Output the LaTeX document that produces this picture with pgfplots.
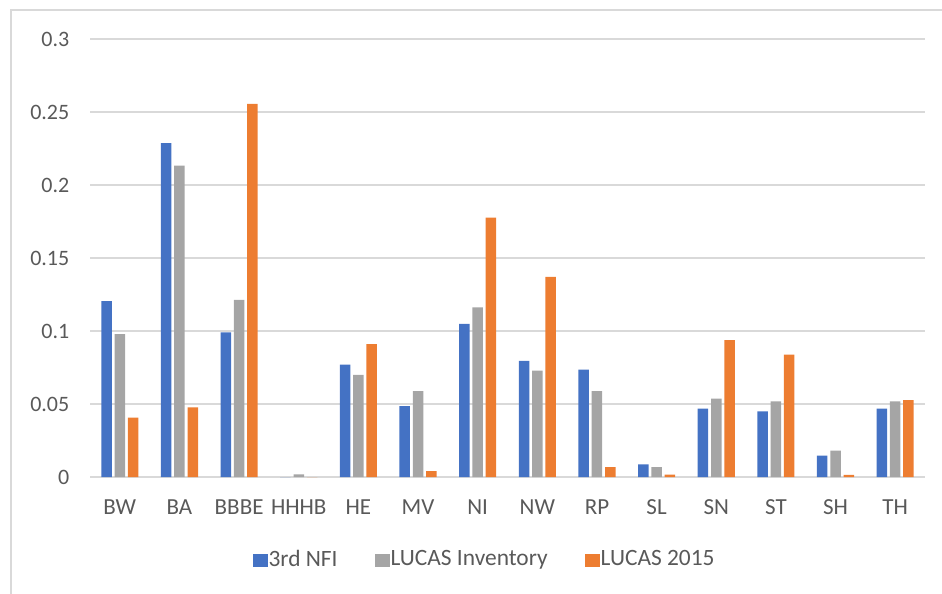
\documentclass[border=0pt]{standalone}
\usepackage{fontspec}
\setmainfont{Carlito}
\usepackage{pgfplots}
\pgfplotsset{compat=1.18}
\definecolor{cblue}{HTML}{4472C4}
\definecolor{cgray}{HTML}{A5A5A5}
\definecolor{corange}{HTML}{ED7D31}
\definecolor{gridc}{HTML}{D9D9D9}
\definecolor{txt}{HTML}{595959}
\begin{document}
\fontsize{11}{13}\selectfont
\begin{tikzpicture}
\useasboundingbox (0pt,0pt) rectangle (471pt,297pt);
\draw[gridc, line width=0.8pt] (5.5pt,0pt) -- (5.5pt,292pt) -- (471pt,292pt);
\begin{axis}[
  at={(45pt,58.5pt)}, anchor=south west,
  scale only axis, width=417.5pt, height=219pt,
  ybar=1.4pt, bar width=5.25pt,
  xmin=-0.5, xmax=13.5, ymin=0, ymax=0.3,
  xtick={0,...,13},
  xticklabels={BW,BA,BBBE,HHHB,HE,MV,NI,NW,RP,SL,SN,ST,SH,TH},
  ytick={0,0.05,0.1,0.15,0.2,0.25,0.3},
  yticklabels={0,0.05,0.1,0.15,0.2,0.25,0.3},
  major tick length=0pt,
  axis line style={draw=none},
  xmajorgrids=false, ymajorgrids=true,
  major grid style={gridc, line width=0.8pt},
  tick label style={txt, font=\fontsize{11}{13}\selectfont},
  yticklabel style={xshift=-6.5pt},
  xticklabel style={yshift=-7.5pt, font=\fontsize{11.5}{13}\selectfont},
  legend columns=3,
  legend style={draw=none, fill=none, at={(0.4737,-0.1895)}, anchor=center,
    font=\fontsize{11.7}{14}\selectfont, text=txt,
    /tikz/every odd column/.append style={column sep=-1.5pt},
    /tikz/every even column/.append style={column sep=16.5pt}},
  legend image code/.code={\fill[#1] (0pt,-3.25pt) rectangle (7.5pt,3.25pt);},
]
\addplot[fill=cblue, draw=none] coordinates {(0,0.1204) (1,0.2287) (2,0.0990) (3,0) (4,0.0769) (5,0.0486) (6,0.1049) (7,0.0796) (8,0.0735) (9,0.0087) (10,0.0468) (11,0.0449) (12,0.0146) (13,0.0468)};
\addplot[fill=cgray, draw=none] coordinates {(0,0.0978) (1,0.2132) (2,0.1213) (3,0.0018) (4,0.0700) (5,0.0588) (6,0.1161) (7,0.0728) (8,0.0588) (9,0.0068) (10,0.0536) (11,0.0518) (12,0.0181) (13,0.0518)};
\addplot[fill=corange, draw=none] coordinates {(0,0.0406) (1,0.0477) (2,0.2556) (3,0) (4,0.0910) (5,0.0041) (6,0.1776) (7,0.1371) (8,0.0068) (9,0.0016) (10,0.0937) (11,0.0839) (12,0.0014) (13,0.0527)};
\legend{3rd NFI, LUCAS Inventory, LUCAS 2015}
\end{axis}
\end{tikzpicture}
\end{document}
